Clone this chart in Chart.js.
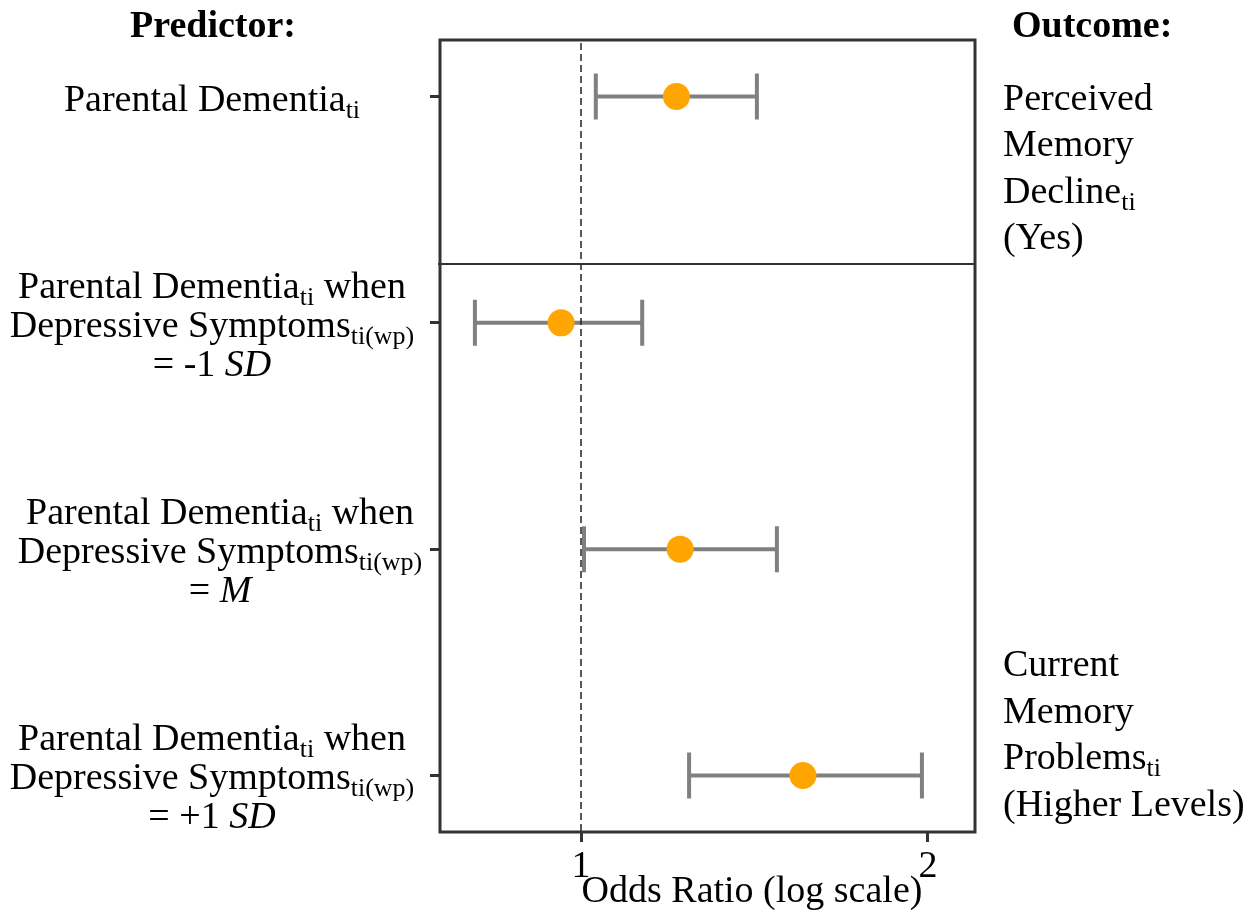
<!DOCTYPE html>
<html>
<head>
<meta charset="utf-8">
<script src="https://cdn.jsdelivr.net/npm/chart.js@4/dist/chart.umd.min.js"></script>
<style>
  html, body { margin: 0; padding: 0; background: #fff; }
  #wrap { width: 1259px; height: 916px; position: relative; }
</style>
</head>
<body>
<div id="wrap"><canvas id="forest"></canvas></div>
<script>
// rows (top to bottom) and their odds ratios with 95% CI
const rows = [1, 2, 3, 4];
const oddsRatio = [1.21, 0.961, 1.219, 1.558];
const ciLower = [1.03, 0.809, 1.006, 1.241];
const ciUpper = [1.421, 1.13, 1.479, 1.976];
const xTicks = [1, 2];
const refLine = 1;

// predictor labels, one array of lines per row; segments: [text, style]
const predictorLabels = [
  [[['Parental Dementia', ''], ['ti', 'sub']]],
  [[['Parental Dementia', ''], ['ti', 'sub'], [' when', '']],
   [['Depressive Symptoms', ''], ['ti(wp)', 'sub']],
   [['= -1 ', ''], ['SD', 'i']]],
  [[['Parental Dementia', ''], ['ti', 'sub'], [' when', '']],
   [['Depressive Symptoms', ''], ['ti(wp)', 'sub']],
   [['= ', ''], ['M', 'i']]],
  [[['Parental Dementia', ''], ['ti', 'sub'], [' when', '']],
   [['Depressive Symptoms', ''], ['ti(wp)', 'sub']],
   [['= +1 ', ''], ['SD', 'i']]]
];
const outcomeTop = [[['Perceived', '']], [['Memory', '']], [['Decline', ''], ['ti', 'sub']], [['(Yes)', '']]];
const outcomeBottom = [[['Current', '']], [['Memory', '']], [['Problems', ''], ['ti', 'sub']], [['(Higher Levels)', '']]];

const SERIF = '"Liberation Serif", "Times New Roman", serif';
const FS = 38;

function segFont(style) {
  if (style === 'sub') return '26px ' + SERIF;
  if (style === 'i') return 'italic ' + FS + 'px ' + SERIF;
  if (style === 'b') return 'bold ' + FS + 'px ' + SERIF;
  return FS + 'px ' + SERIF;
}

function drawRich(ctx, segs, x, baseline, align) {
  let total = 0;
  segs.forEach(s => { ctx.font = segFont(s[1]); total += ctx.measureText(s[0]).width; });
  let cx = align === 'center' ? x - total / 2 : x;
  ctx.textAlign = 'left';
  ctx.textBaseline = 'alphabetic';
  segs.forEach(s => {
    ctx.font = segFont(s[1]);
    ctx.fillText(s[0], cx, baseline + (s[1] === 'sub' ? 7 : 0));
    cx += ctx.measureText(s[0]).width;
  });
}

const forestPlugin = {
  id: 'forest',
  beforeDatasetsDraw(chart) {
    const ctx = chart.ctx;
    const xs = chart.scales.x, ys = chart.scales.y;
    const area = chart.chartArea;
    ctx.save();
    // error bars
    ctx.strokeStyle = '#808080';
    ctx.lineWidth = 4;
    rows.forEach((r, i) => {
      const y = ys.getPixelForValue(r);
      const x0 = xs.getPixelForValue(ciLower[i]);
      const x1 = xs.getPixelForValue(ciUpper[i]);
      ctx.beginPath();
      ctx.moveTo(x0, y); ctx.lineTo(x1, y);
      ctx.moveTo(x0, y - 23); ctx.lineTo(x0, y + 23);
      ctx.moveTo(x1, y - 23); ctx.lineTo(x1, y + 23);
      ctx.stroke();
    });
    // reference line at OR = 1
    const xr = xs.getPixelForValue(refLine);
    ctx.strokeStyle = '#222';
    ctx.lineWidth = 1.5;
    ctx.setLineDash([7, 4]);
    ctx.beginPath();
    ctx.moveTo(xr, area.top + 3); ctx.lineTo(xr, area.bottom);
    ctx.stroke();
    ctx.restore();
  },
  afterDraw(chart) {
    const ctx = chart.ctx;
    const xs = chart.scales.x, ys = chart.scales.y;
    const area = chart.chartArea;
    ctx.save();
    // frame + separator between outcomes
    ctx.strokeStyle = '#333';
    ctx.lineWidth = 3;
    ctx.strokeRect(area.left, area.top, area.right - area.left, area.bottom - area.top);
    const sepY = ys.getPixelForValue(1.74);
    ctx.lineWidth = 2;
    ctx.beginPath();
    ctx.moveTo(area.left - 2, sepY); ctx.lineTo(area.right, sepY);
    ctx.stroke();

    ctx.fillStyle = '#000';
    // headers
    drawRich(ctx, [['Predictor:', 'b']], 213, 37, 'center');
    drawRich(ctx, [['Outcome:', 'b']], 1012, 37, 'left');

    // predictor labels
    predictorLabels.forEach((lines, i) => {
      const y = ys.getPixelForValue(rows[i]);
      const cx = i === 2 ? 220 : 212;
      const mid = (lines.length - 1) / 2;
      lines.forEach((segs, j) => {
        drawRich(ctx, segs, cx, y + 14 + (j - mid) * 39, 'center');
      });
    });

    // outcome labels
    const y1 = ys.getPixelForValue(rows[0]);
    outcomeTop.forEach((segs, j) => drawRich(ctx, segs, 1003, y1 + 13 + j * 46.5, 'left'));
    const y4 = ys.getPixelForValue(rows[3]);
    outcomeBottom.forEach((segs, j) => drawRich(ctx, segs, 1003, y4 - 99 + j * 46.5, 'left'));

    // x axis title
    drawRich(ctx, [['Odds Ratio (log scale)', '']], 752, 902, 'center');
    ctx.restore();
  }
};

new Chart(document.getElementById('forest'), {
  type: 'scatter',
  data: {
    datasets: [{
      data: rows.map((r, i) => ({ x: oddsRatio[i], y: r })),
      backgroundColor: '#FFA500',
      borderWidth: 0,
      pointRadius: 13.5,
      pointHoverRadius: 13.5
    }]
  },
  options: {
    responsive: true,
    maintainAspectRatio: false,
    animation: false,
    layout: { padding: { left: 430, right: 284, top: 40, bottom: 0 } },
    plugins: { legend: { display: false }, tooltip: { enabled: false } },
    scales: {
      x: {
        type: 'logarithmic',
        min: 0.7545,
        max: 2.197,
        afterBuildTicks: axis => { axis.ticks = xTicks.map(v => ({ value: v })); },
        afterFit: axis => { axis.height = 84; },
        border: { display: false },
        grid: { drawOnChartArea: false, drawTicks: true, tickLength: 10, color: '#333', lineWidth: 3 },
        ticks: {
          autoSkip: false,
          maxRotation: 0,
          padding: 2,
          color: '#000',
          font: { family: SERIF, size: FS },
          callback: v => String(v)
        }
      },
      y: {
        type: 'linear',
        reverse: true,
        min: 0.75,
        max: 4.25,
        afterBuildTicks: axis => { axis.ticks = rows.map(v => ({ value: v })); },
        afterFit: axis => { axis.width = 10; },
        border: { display: false },
        grid: { drawOnChartArea: false, drawTicks: true, tickLength: 10, color: '#333', lineWidth: 3 },
        ticks: { display: false }
      }
    }
  },
  plugins: [forestPlugin]
});
</script>
</body>
</html>
